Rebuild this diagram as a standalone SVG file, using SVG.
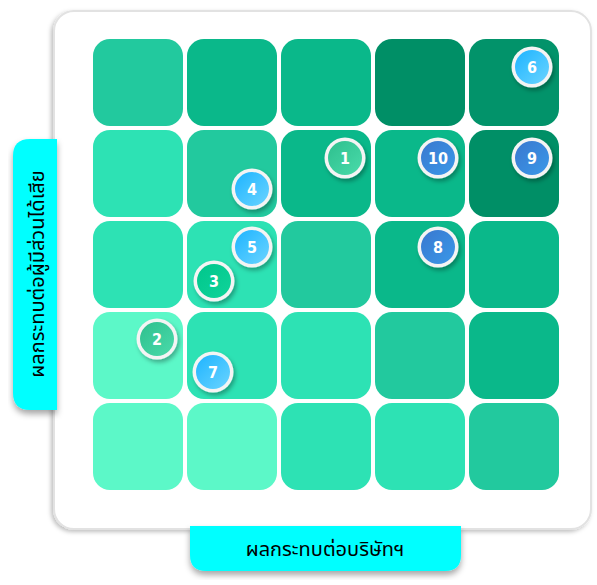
<svg xmlns="http://www.w3.org/2000/svg" width="597" height="585" viewBox="0 0 597 585">
<defs>
<style>
.c1{fill:#22C99E}.c2{fill:#0AB88A}.c3{fill:#008F66}.c4{fill:#2DE2B4}.c5{fill:#5CF8C8}
.cell{rx:17;ry:17}
.lbl{fill:#00FFFF}
.lt{font-family:"Noto Sans Thai","Tahoma","Noto Sans","DejaVu Sans",sans-serif;font-size:20px;fill:#000;text-anchor:middle}
.num{font-family:"DejaVu Sans Condensed","DejaVu Sans",sans-serif;font-weight:bold;font-size:16px;fill:#fff;text-anchor:middle}
.ring{fill:#F4F4F4}
</style>
<filter id="sh" x="-20%" y="-20%" width="150%" height="150%">
<feDropShadow dx="2" dy="3" stdDeviation="2" flood-color="#000" flood-opacity="0.3"/>
</filter>
<filter id="psh" x="-5%" y="-5%" width="110%" height="110%">
<feDropShadow dx="-2" dy="2" stdDeviation="2" flood-color="#000" flood-opacity="0.25"/>
</filter>
<filter id="lsh" x="-10%" y="-10%" width="130%" height="130%">
<feDropShadow dx="0" dy="4" stdDeviation="3" flood-color="#000" flood-opacity="0.35"/>
</filter>
<linearGradient id="gGreen" x1="0" y1="0" x2="1" y2="1"><stop offset="0" stop-color="#2EBF8E"/><stop offset="1" stop-color="#4ADBAA"/></linearGradient>
<linearGradient id="gBlue" x1="0" y1="0" x2="1" y2="1"><stop offset="0" stop-color="#3A78CF"/><stop offset="1" stop-color="#3A98E8"/></linearGradient>
<linearGradient id="gLight" x1="0" y1="0" x2="1" y2="1"><stop offset="0" stop-color="#1EB4FF"/><stop offset="1" stop-color="#6AD4FF"/></linearGradient>
<linearGradient id="gMint" x1="0" y1="0" x2="1" y2="1"><stop offset="0" stop-color="#00C68C"/><stop offset="1" stop-color="#10D49A"/></linearGradient>
</defs>
<rect width="597" height="585" fill="#fff"/>
<g id="panel">
<rect x="54" y="11" width="537" height="518" rx="20" fill="#fff" stroke="#E2E2E2" stroke-width="2" filter="url(#psh)"/>
</g>
<g id="grid">
<rect class="cell c1" x="93" y="39" width="90" height="87"/>
<rect class="cell c2" x="187" y="39" width="90" height="87"/>
<rect class="cell c2" x="281" y="39" width="90" height="87"/>
<rect class="cell c3" x="375" y="39" width="90" height="87"/>
<rect class="cell c3" x="469" y="39" width="90" height="87" style="fill:#02936A"/>
<rect class="cell c4" x="93" y="130" width="90" height="87"/>
<rect class="cell c1" x="187" y="130" width="90" height="87"/>
<rect class="cell c2" x="281" y="130" width="90" height="87"/>
<rect class="cell c2" x="375" y="130" width="90" height="87"/>
<rect class="cell c3" x="469" y="130" width="90" height="87"/>
<rect class="cell c4" x="93" y="221" width="90" height="87"/>
<rect class="cell c4" x="187" y="221" width="90" height="87"/>
<rect class="cell c1" x="281" y="221" width="90" height="87"/>
<rect class="cell c2" x="375" y="221" width="90" height="87"/>
<rect class="cell c2" x="469" y="221" width="90" height="87"/>
<rect class="cell c5" x="93" y="312" width="90" height="87"/>
<rect class="cell c4" x="187" y="312" width="90" height="87"/>
<rect class="cell c4" x="281" y="312" width="90" height="87"/>
<rect class="cell c1" x="375" y="312" width="90" height="87"/>
<rect class="cell c2" x="469" y="312" width="90" height="87"/>
<rect class="cell c5" x="93" y="403" width="90" height="87"/>
<rect class="cell c5" x="187" y="403" width="90" height="87"/>
<rect class="cell c4" x="281" y="403" width="90" height="87"/>
<rect class="cell c4" x="375" y="403" width="90" height="87"/>
<rect class="cell c1" x="469" y="403" width="90" height="87"/>
</g>
<g id="ylabel">
<path class="lbl" d="M57,139 H30 Q13,139 13,156 V393 Q13,410 30,410 H57 Z" filter="url(#lsh)"/>
<text class="lt" transform="translate(44,274) rotate(-90)">ผลกระทบต่อผู้มีส่วนได้เสีย</text>
</g>
<g id="xlabel">
<path class="lbl" d="M190,526 H461 V555 Q461,571 445,571 H206 Q190,571 190,555 Z" filter="url(#lsh)"/>
<text class="lt" x="325" y="556">ผลกระทบต่อบริษัทฯ</text>
</g>
<g id="n1"><circle class="ring" cx="345" cy="158" r="20.5" filter="url(#sh)"/><circle cx="345" cy="158" r="17" fill="url(#gGreen)"/><text class="num" x="345" y="164">1</text></g>
<g id="n2"><circle class="ring" cx="157" cy="339" r="20.5" filter="url(#sh)"/><circle cx="157" cy="339" r="17" fill="url(#gGreen)"/><text class="num" x="157" y="345">2</text></g>
<g id="n3"><circle class="ring" cx="214" cy="281" r="20.5" filter="url(#sh)"/><circle cx="214" cy="281" r="17" fill="url(#gMint)"/><text class="num" x="214" y="287">3</text></g>
<g id="n4"><circle class="ring" cx="252" cy="189" r="20.5" filter="url(#sh)"/><circle cx="252" cy="189" r="17" fill="url(#gLight)"/><text class="num" x="252" y="195">4</text></g>
<g id="n5"><circle class="ring" cx="252" cy="247" r="20.5" filter="url(#sh)"/><circle cx="252" cy="247" r="17" fill="url(#gLight)"/><text class="num" x="252" y="253">5</text></g>
<g id="n6"><circle class="ring" cx="532" cy="67" r="20.5" filter="url(#sh)"/><circle cx="532" cy="67" r="17" fill="url(#gLight)"/><text class="num" x="532" y="73">6</text></g>
<g id="n7"><circle class="ring" cx="213" cy="372" r="20.5" filter="url(#sh)"/><circle cx="213" cy="372" r="17" fill="url(#gLight)"/><text class="num" x="213" y="378">7</text></g>
<g id="n8"><circle class="ring" cx="438" cy="247" r="20.5" filter="url(#sh)"/><circle cx="438" cy="247" r="17" fill="url(#gBlue)"/><text class="num" x="438" y="253">8</text></g>
<g id="n9"><circle class="ring" cx="532" cy="158" r="20.5" filter="url(#sh)"/><circle cx="532" cy="158" r="17" fill="url(#gBlue)"/><text class="num" x="532" y="164">9</text></g>
<g id="n10"><circle class="ring" cx="438" cy="158" r="20.5" filter="url(#sh)"/><circle cx="438" cy="158" r="17" fill="url(#gBlue)"/><text class="num" x="438" y="164">10</text></g>
<g id="connectors"/>
</svg>
